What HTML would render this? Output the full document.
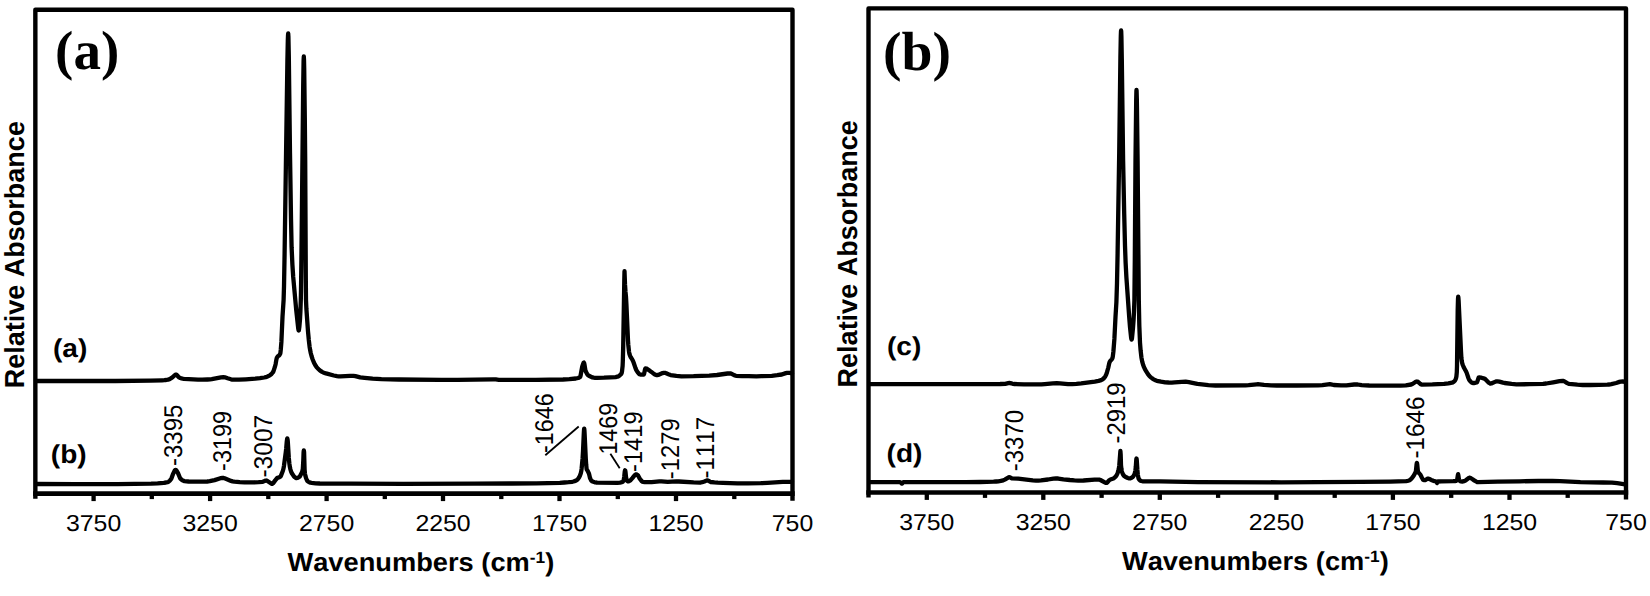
<!DOCTYPE html>
<html lang="en"><head><meta charset="utf-8"><title>FTIR spectra</title>
<style>
html,body{margin:0;padding:0;background:#fff;}
body{width:1650px;height:596px;overflow:hidden;}
svg{display:block;}
text{fill:#000;font-kerning:none;font-feature-settings:"kern" 0,"liga" 0;text-rendering:geometricPrecision;}
.ax{font-family:"Liberation Sans",sans-serif;}
.b{font-weight:bold;}
.ser{font-family:"Liberation Serif",serif;font-weight:bold;}
.cv{fill:none;stroke:#000;stroke-linejoin:round;stroke-linecap:round;}
</style></head><body>
<svg width="1650" height="596" viewBox="0 0 1650 596">
<rect width="1650" height="596" fill="#fff"/>

<path d="M35.35,498.7 L35.35,9.7 L792.5,9.7 L792.5,500.7" fill="none" stroke="#000" stroke-width="4.4" stroke-linejoin="round"/>
<path d="M33.15,493.7 L794.70,493.7" fill="none" stroke="#000" stroke-width="4.7"/>
<path d="M93.6,493.7 L93.6,501.1" stroke="#000" stroke-width="4.3"/>
<path d="M151.8,493.7 L151.8,499.1" stroke="#000" stroke-width="4.3"/>
<path d="M210.1,493.7 L210.1,501.1" stroke="#000" stroke-width="4.3"/>
<path d="M268.3,493.7 L268.3,499.1" stroke="#000" stroke-width="4.3"/>
<path d="M326.6,493.7 L326.6,501.1" stroke="#000" stroke-width="4.3"/>
<path d="M384.8,493.7 L384.8,499.1" stroke="#000" stroke-width="4.3"/>
<path d="M443.0,493.7 L443.0,501.1" stroke="#000" stroke-width="4.3"/>
<path d="M501.3,493.7 L501.3,499.1" stroke="#000" stroke-width="4.3"/>
<path d="M559.5,493.7 L559.5,501.1" stroke="#000" stroke-width="4.3"/>
<path d="M617.8,493.7 L617.8,499.1" stroke="#000" stroke-width="4.3"/>
<path d="M676.0,493.7 L676.0,501.1" stroke="#000" stroke-width="4.3"/>
<path d="M734.3,493.7 L734.3,499.1" stroke="#000" stroke-width="4.3"/>
<text class="ax" font-size="23" text-anchor="middle" transform="translate(93.6,530.7) scale(1.08,1)">3750</text>
<text class="ax" font-size="23" text-anchor="middle" transform="translate(210.1,530.7) scale(1.08,1)">3250</text>
<text class="ax" font-size="23" text-anchor="middle" transform="translate(326.6,530.7) scale(1.08,1)">2750</text>
<text class="ax" font-size="23" text-anchor="middle" transform="translate(443.0,530.7) scale(1.08,1)">2250</text>
<text class="ax" font-size="23" text-anchor="middle" transform="translate(559.5,530.7) scale(1.08,1)">1750</text>
<text class="ax" font-size="23" text-anchor="middle" transform="translate(676.0,530.7) scale(1.08,1)">1250</text>
<text class="ax" font-size="23" text-anchor="middle" transform="translate(792.5,530.7) scale(1.08,1)">750</text>
<path d="M868.5,497.5 L868.5,8.4 L1626,8.4 L1626,499.5" fill="none" stroke="#000" stroke-width="4.4" stroke-linejoin="round"/>
<path d="M866.30,492.5 L1628.20,492.5" fill="none" stroke="#000" stroke-width="4.7"/>
<path d="M926.8,492.5 L926.8,499.9" stroke="#000" stroke-width="4.3"/>
<path d="M985.0,492.5 L985.0,497.9" stroke="#000" stroke-width="4.3"/>
<path d="M1043.3,492.5 L1043.3,499.9" stroke="#000" stroke-width="4.3"/>
<path d="M1101.6,492.5 L1101.6,497.9" stroke="#000" stroke-width="4.3"/>
<path d="M1159.8,492.5 L1159.8,499.9" stroke="#000" stroke-width="4.3"/>
<path d="M1218.1,492.5 L1218.1,497.9" stroke="#000" stroke-width="4.3"/>
<path d="M1276.4,492.5 L1276.4,499.9" stroke="#000" stroke-width="4.3"/>
<path d="M1334.7,492.5 L1334.7,497.9" stroke="#000" stroke-width="4.3"/>
<path d="M1392.9,492.5 L1392.9,499.9" stroke="#000" stroke-width="4.3"/>
<path d="M1451.2,492.5 L1451.2,497.9" stroke="#000" stroke-width="4.3"/>
<path d="M1509.5,492.5 L1509.5,499.9" stroke="#000" stroke-width="4.3"/>
<path d="M1567.7,492.5 L1567.7,497.9" stroke="#000" stroke-width="4.3"/>
<text class="ax" font-size="23" text-anchor="middle" transform="translate(926.8,529.5) scale(1.08,1)">3750</text>
<text class="ax" font-size="23" text-anchor="middle" transform="translate(1043.3,529.5) scale(1.08,1)">3250</text>
<text class="ax" font-size="23" text-anchor="middle" transform="translate(1159.8,529.5) scale(1.08,1)">2750</text>
<text class="ax" font-size="23" text-anchor="middle" transform="translate(1276.4,529.5) scale(1.08,1)">2250</text>
<text class="ax" font-size="23" text-anchor="middle" transform="translate(1392.9,529.5) scale(1.08,1)">1750</text>
<text class="ax" font-size="23" text-anchor="middle" transform="translate(1509.5,529.5) scale(1.08,1)">1250</text>
<text class="ax" font-size="23" text-anchor="middle" transform="translate(1626.0,529.5) scale(1.08,1)">750</text>
<path class="cv" stroke-width="4.3" d="M36.0,381.0 L115.4,381.0 L150.6,380.6 L162.2,380.3 L164.4,380.2 L166.0,380.0 L168.0,379.6 L169.6,379.1 L170.8,378.4 L172.6,377.2 L175.0,375.0 L175.6,374.7 L176.0,374.6 L176.4,374.7 L176.8,375.0 L178.4,376.8 L179.0,377.3 L180.4,378.0 L181.6,378.4 L182.6,378.6 L184.0,378.8 L198.0,379.7 L202.2,379.7 L207.4,379.5 L210.2,379.4 L211.8,379.2 L221.0,377.3 L223.4,377.1 L224.8,377.3 L227.6,378.3 L231.0,379.3 L232.4,379.6 L233.6,379.7 L239.0,379.6 L245.8,379.3 L255.2,378.7 L260.0,378.2 L264.2,377.5 L265.6,377.2 L267.0,376.7 L268.4,376.1 L269.8,375.4 L271.2,374.3 L272.6,372.7 L273.2,371.8 L273.6,370.9 L274.8,367.2 L275.6,364.2 L276.4,359.5 L276.8,357.9 L277.2,357.2 L277.6,356.6 L279.0,355.6 L279.6,354.9 L280.2,353.7 L280.4,352.9 L280.8,349.5 L281.4,341.9 L282.5,316.8 L283.6,300.0 L284.0,286.6 L284.6,253.7 L287.4,60.8 L287.8,41.1 L288.0,35.5 L288.2,33.5 L288.4,36.3 L288.8,55.5 L290.0,153.5 L291.0,218.5 L291.6,247.2 L292.4,264.6 L293.2,276.9 L296.2,309.9 L298.2,328.3 L298.6,330.4 L298.7,330.5 L298.8,330.4 L299.0,329.6 L299.4,326.4 L300.0,319.3 L300.4,311.5 L300.8,300.0 L301.0,290.6 L301.4,259.1 L303.2,85.5 L303.6,60.3 L303.8,56.5 L304.0,59.6 L304.2,68.2 L304.8,117.5 L305.2,160.0 L305.8,278.6 L306.0,300.0 L306.4,309.0 L308.0,331.3 L308.8,339.9 L309.6,346.8 L310.2,350.3 L310.8,353.2 L311.6,356.3 L312.6,359.2 L314.0,362.7 L315.2,365.0 L316.4,366.8 L317.8,368.5 L319.4,370.0 L321.0,371.2 L322.0,371.8 L323.2,372.4 L326.0,373.4 L333.8,375.5 L337.0,376.1 L338.6,376.3 L340.6,376.3 L350.0,375.9 L353.4,375.8 L355.4,376.1 L360.2,377.4 L364.6,377.9 L372.6,378.7 L381.4,379.1 L398.8,379.5 L441.4,379.8 L457.6,379.8 L493.2,379.4 L495.8,379.4 L498.8,379.8 L500.0,379.9 L535.8,379.8 L563.0,379.5 L569.4,379.2 L575.8,378.5 L578.2,378.0 L580.0,377.1 L580.2,376.8 L580.6,375.5 L582.2,366.7 L583.2,363.6 L583.6,362.8 L583.9,362.6 L584.2,363.2 L584.4,364.1 L585.4,370.3 L585.6,371.0 L586.2,372.3 L587.2,374.1 L588.2,375.3 L588.9,375.8 L591.0,376.8 L592.4,377.4 L593.8,377.7 L595.0,377.8 L597.2,377.8 L604.0,377.7 L610.4,377.4 L615.6,377.1 L617.4,376.7 L618.6,376.2 L619.6,375.5 L620.8,374.4 L621.6,373.3 L622.0,371.6 L622.6,366.0 L622.8,361.6 L623.2,346.5 L624.3,280.0 L624.5,271.2 L625.0,284.4 L625.5,292.0 L626.0,297.0 L626.4,304.0 L628.0,340.3 L628.3,345.0 L629.0,351.6 L629.4,353.8 L630.0,355.6 L630.8,357.3 L632.2,359.4 L632.9,360.7 L633.6,362.5 L635.4,367.9 L636.2,369.9 L636.7,370.8 L638.2,372.9 L639.0,373.8 L639.6,374.3 L640.4,374.6 L643.8,374.5 L644.2,373.4 L645.0,369.5 L645.2,368.8 L645.5,368.3 L646.4,368.5 L647.2,368.9 L649.8,370.8 L651.4,371.9 L654.2,374.1 L655.2,374.7 L656.2,375.0 L657.2,375.1 L658.2,374.9 L662.6,373.1 L663.6,372.9 L664.6,372.8 L665.4,372.9 L666.2,373.2 L669.2,374.6 L670.6,375.1 L676.4,375.9 L681.4,376.3 L693.6,376.2 L709.2,375.6 L717.0,375.0 L727.6,373.5 L729.8,373.3 L730.4,373.4 L731.2,373.6 L734.6,375.4 L736.0,375.8 L742.0,376.1 L748.6,376.2 L756.4,376.3 L761.4,376.2 L771.8,375.8 L777.2,375.2 L781.8,374.5 L785.8,373.1 L787.2,372.8 L789.8,372.9 L792.0,373.3"/>
<path class="cv" stroke-width="4.3" d="M36.0,484.0 L74.8,484.2 L117.6,484.1 L151.2,483.6 L157.6,483.3 L163.8,482.8 L166.0,482.5 L167.8,482.1 L168.8,481.6 L170.0,480.4 L171.0,479.2 L171.4,478.5 L173.2,473.6 L174.4,471.2 L175.0,470.2 L175.4,469.8 L175.6,469.8 L176.0,470.0 L176.4,470.4 L178.0,473.1 L179.8,477.5 L180.4,478.6 L181.6,479.7 L182.6,480.4 L183.6,480.9 L184.4,481.1 L188.6,481.5 L193.0,481.7 L201.0,481.7 L207.2,481.5 L209.8,481.2 L214.6,480.1 L220.4,478.2 L221.6,478.0 L222.8,477.9 L223.6,478.0 L224.6,478.3 L231.0,480.9 L232.6,481.4 L234.4,481.7 L239.8,482.1 L244.6,482.3 L249.6,482.4 L254.2,482.3 L258.6,482.2 L262.4,481.9 L263.2,481.6 L265.2,480.7 L265.8,480.6 L266.4,480.5 L266.8,480.6 L267.4,480.9 L271.2,483.5 L271.8,483.8 L272.2,483.8 L272.6,483.6 L273.2,483.1 L275.2,480.4 L277.2,478.0 L277.8,477.7 L279.6,477.1 L280.4,476.7 L281.0,475.6 L282.8,471.0 L283.5,468.5 L284.0,465.6 L285.8,452.0 L286.2,448.5 L286.8,441.3 L287.2,438.6 L287.3,438.4 L287.6,439.7 L287.8,441.6 L288.8,458.0 L289.4,463.8 L289.8,466.5 L290.4,469.3 L291.2,471.8 L292.0,473.6 L293.4,475.6 L294.6,477.1 L295.6,477.8 L296.2,478.1 L296.6,478.1 L297.2,478.0 L298.0,477.7 L299.6,476.7 L300.2,475.8 L301.6,473.1 L302.0,472.3 L302.4,471.0 L302.8,469.0 L303.3,460.3 L303.6,452.2 L303.8,450.4 L304.1,452.2 L304.6,469.7 L305.0,473.8 L305.4,475.9 L306.2,478.5 L307.0,480.3 L307.6,481.2 L308.2,481.7 L309.4,482.3 L310.4,482.7 L311.6,482.9 L315.6,483.3 L319.8,483.5 L351.0,483.7 L403.2,483.8 L474.2,483.7 L511.6,483.5 L536.4,483.3 L559.8,482.8 L564.4,482.5 L568.6,482.2 L572.0,481.8 L573.4,481.5 L575.4,480.9 L576.8,480.1 L578.0,479.0 L579.0,477.6 L580.0,475.5 L580.8,473.2 L581.3,471.0 L581.6,468.8 L582.6,458.2 L583.0,451.4 L583.8,433.7 L584.0,430.1 L584.2,428.6 L584.4,430.1 L584.6,433.7 L585.8,458.8 L586.2,464.8 L586.6,469.0 L586.8,469.6 L587.6,470.8 L588.8,473.2 L589.2,474.5 L590.0,477.9 L590.4,478.9 L591.0,480.1 L591.6,480.9 L592.0,481.2 L593.4,481.8 L594.8,482.3 L596.0,482.5 L597.3,482.6 L617.4,482.8 L620.0,482.6 L622.0,482.2 L622.6,481.9 L623.0,481.5 L623.4,481.0 L623.6,480.5 L624.2,477.0 L624.7,472.0 L625.0,470.5 L625.1,470.3 L625.2,470.5 L625.5,472.0 L626.0,477.0 L626.6,479.9 L626.8,480.3 L627.4,481.0 L627.8,481.3 L628.2,481.4 L629.0,481.2 L630.4,480.4 L632.6,477.9 L634.2,475.8 L635.4,474.7 L635.8,474.4 L636.2,474.3 L636.6,474.4 L637.0,474.6 L638.2,475.7 L639.8,478.7 L641.0,480.3 L641.8,481.2 L642.4,481.6 L643.2,481.8 L644.8,482.1 L646.2,482.2 L651.6,482.1 L659.4,481.4 L661.4,481.4 L667.8,481.8 L676.2,481.4 L678.8,481.5 L693.6,482.4 L699.8,482.6 L700.8,482.5 L702.2,482.2 L704.4,481.5 L706.4,480.6 L707.3,480.4 L708.2,480.6 L710.0,481.6 L710.8,482.0 L714.4,482.4 L717.8,482.7 L722.8,482.9 L737.6,483.3 L748.0,483.4 L760.8,483.2 L767.4,482.9 L782.8,481.9 L792.0,481.8"/>
<path class="cv" stroke-width="4.3" d="M870.0,384.1 L964.0,384.1 L1000.2,384.0 L1005.2,383.8 L1008.2,383.1 L1009.3,383.0 L1010.4,383.1 L1012.8,383.8 L1013.8,384.0 L1024.0,384.3 L1041.4,384.4 L1044.8,384.1 L1052.8,383.3 L1056.8,383.1 L1060.0,383.3 L1068.0,384.1 L1072.2,384.2 L1076.4,383.9 L1081.2,383.4 L1094.8,381.6 L1098.6,380.9 L1101.2,380.2 L1102.2,379.7 L1103.6,378.5 L1105.2,376.6 L1106.0,375.1 L1107.0,372.2 L1108.2,368.0 L1109.2,363.4 L1109.6,362.1 L1110.2,361.0 L1111.4,359.8 L1112.0,359.0 L1112.5,357.9 L1112.8,356.6 L1113.4,351.5 L1114.4,338.9 L1115.5,316.8 L1116.4,302.2 L1117.0,283.3 L1117.6,253.2 L1119.2,153.7 L1120.4,57.6 L1120.8,36.1 L1121.0,31.2 L1121.1,30.5 L1121.2,31.2 L1121.4,36.4 L1121.8,58.9 L1123.1,160.0 L1124.2,213.9 L1125.0,245.7 L1125.6,262.3 L1126.4,277.4 L1129.2,317.2 L1130.0,327.0 L1131.2,338.2 L1131.4,339.2 L1131.6,339.6 L1131.8,339.2 L1132.0,338.1 L1133.0,327.8 L1133.6,319.7 L1134.0,311.6 L1134.4,300.0 L1134.8,260.7 L1135.5,160.0 L1136.2,99.5 L1136.4,91.2 L1136.5,90.0 L1136.6,91.0 L1136.8,97.9 L1137.0,110.1 L1137.6,160.0 L1138.8,300.0 L1139.3,325.2 L1140.0,342.6 L1140.6,350.3 L1141.4,357.3 L1142.2,361.7 L1143.2,365.1 L1144.0,367.2 L1144.8,368.9 L1146.4,371.7 L1147.8,373.9 L1149.0,375.5 L1150.0,376.6 L1151.2,377.6 L1152.8,378.8 L1154.8,380.0 L1156.8,380.8 L1161.0,381.7 L1165.2,382.3 L1168.6,382.5 L1171.8,382.6 L1174.6,382.4 L1181.8,381.8 L1185.6,381.7 L1188.8,382.2 L1194.8,383.4 L1197.4,383.9 L1208.4,385.1 L1212.0,385.4 L1215.4,385.5 L1245.6,385.4 L1248.6,385.2 L1256.6,384.3 L1258.0,384.2 L1259.6,384.3 L1264.0,384.9 L1271.0,385.3 L1276.8,385.5 L1296.8,385.5 L1318.2,385.3 L1322.4,385.2 L1330.0,384.2 L1331.0,384.3 L1333.8,385.0 L1341.0,385.3 L1346.4,385.3 L1354.2,384.5 L1356.0,384.4 L1357.6,384.5 L1361.6,385.2 L1369.2,385.5 L1378.2,385.6 L1400.6,385.6 L1405.8,385.3 L1411.2,384.5 L1412.4,384.0 L1415.4,382.0 L1416.2,381.6 L1416.8,381.5 L1417.4,381.6 L1418.0,381.8 L1420.6,384.1 L1421.2,384.5 L1421.8,384.6 L1432.4,384.4 L1444.0,383.9 L1448.4,383.4 L1452.0,382.7 L1453.0,382.4 L1453.8,381.8 L1454.8,380.8 L1455.4,379.9 L1456.0,378.2 L1456.4,376.5 L1456.8,372.3 L1457.0,366.1 L1457.7,310.2 L1458.0,299.0 L1458.2,296.6 L1458.4,297.9 L1458.6,300.4 L1461.0,351.4 L1461.4,358.1 L1461.7,360.5 L1462.2,363.1 L1462.8,365.0 L1464.0,367.8 L1465.8,371.0 L1466.6,372.6 L1468.4,378.0 L1469.0,379.5 L1469.4,380.2 L1470.4,381.4 L1471.2,382.1 L1472.0,382.7 L1472.8,383.0 L1473.8,383.0 L1475.4,382.8 L1476.8,382.4 L1477.0,382.2 L1477.4,381.4 L1478.6,377.8 L1478.8,377.5 L1479.0,377.4 L1480.2,377.5 L1481.4,377.7 L1484.4,378.6 L1485.6,379.4 L1488.8,382.7 L1489.6,383.2 L1490.2,383.5 L1491.0,383.5 L1491.8,383.3 L1495.6,381.6 L1496.6,381.3 L1497.4,381.3 L1499.4,381.6 L1503.0,382.6 L1504.6,383.0 L1511.6,383.9 L1516.4,384.3 L1529.6,384.2 L1543.0,383.8 L1546.2,383.5 L1553.2,382.3 L1559.6,381.1 L1562.6,380.8 L1563.4,380.9 L1564.2,381.2 L1567.2,383.1 L1568.4,383.7 L1569.1,383.9 L1571.8,384.2 L1577.4,384.7 L1582.8,385.0 L1590.2,385.0 L1599.2,384.8 L1607.3,384.6 L1608.8,384.5 L1611.4,384.1 L1616.2,383.0 L1619.4,381.9 L1620.6,381.6 L1622.8,381.5 L1625.0,381.8"/>
<path class="cv" stroke-width="4.3" d="M870.0,482.1 L900.0,482.1 L900.4,482.3 L901.4,483.3 L901.9,483.6 L902.2,483.5 L903.0,482.4 L903.5,482.1 L965.8,482.2 L980.0,482.0 L993.6,481.7 L996.2,481.5 L998.4,481.3 L1000.8,480.9 L1003.2,480.3 L1004.8,479.6 L1008.6,477.4 L1009.4,477.2 L1010.0,477.4 L1011.4,478.2 L1012.0,478.4 L1018.2,478.7 L1026.4,479.7 L1032.8,480.4 L1036.0,480.6 L1038.4,480.6 L1041.0,480.4 L1048.0,479.5 L1053.4,478.6 L1056.0,478.4 L1058.2,478.5 L1063.4,479.3 L1069.8,480.0 L1074.4,480.4 L1078.2,480.6 L1083.4,480.5 L1094.6,479.7 L1099.2,479.6 L1100.4,480.0 L1105.2,482.6 L1106.0,482.8 L1106.6,482.9 L1107.0,482.8 L1107.4,482.4 L1108.8,480.7 L1109.4,480.1 L1111.2,479.2 L1113.4,478.5 L1114.4,477.8 L1115.2,477.0 L1116.2,475.8 L1116.8,474.8 L1117.4,473.6 L1118.0,472.0 L1118.4,470.6 L1118.8,468.7 L1119.3,465.2 L1120.4,450.9 L1120.7,455.0 L1121.0,465.2 L1121.4,468.7 L1121.8,471.2 L1122.1,472.3 L1122.8,474.0 L1123.6,475.3 L1124.4,476.2 L1126.2,477.3 L1127.8,478.0 L1129.2,478.4 L1130.2,478.4 L1131.0,478.1 L1132.5,477.2 L1133.2,476.5 L1134.0,475.1 L1134.6,473.8 L1135.0,472.5 L1135.4,470.6 L1135.8,466.8 L1136.3,459.5 L1136.5,458.5 L1136.7,459.5 L1136.8,460.7 L1137.4,470.0 L1137.8,474.5 L1138.4,477.9 L1138.6,478.6 L1139.0,479.3 L1139.4,479.9 L1140.0,480.4 L1141.4,481.0 L1143.0,481.3 L1160.0,481.4 L1198.0,482.1 L1281.2,482.3 L1317.6,482.2 L1361.0,481.9 L1390.4,481.6 L1406.2,481.2 L1407.2,481.0 L1408.2,480.7 L1409.6,480.2 L1410.2,479.8 L1411.2,478.9 L1412.2,477.8 L1413.8,475.5 L1415.4,472.5 L1415.9,471.1 L1416.5,465.1 L1416.8,463.1 L1416.9,462.9 L1417.0,463.1 L1417.3,465.1 L1417.8,470.5 L1418.0,471.4 L1418.4,472.3 L1419.0,473.1 L1420.4,474.6 L1421.8,477.5 L1422.8,479.3 L1423.2,479.8 L1423.5,480.0 L1424.0,480.1 L1425.2,480.2 L1425.8,479.9 L1427.0,479.0 L1427.6,478.7 L1428.0,478.6 L1428.6,478.7 L1429.4,479.0 L1431.2,479.9 L1433.4,480.8 L1436.3,481.5 L1437.0,483.0 L1437.1,483.1 L1437.9,481.5 L1441.4,481.4 L1453.2,481.2 L1455.0,481.1 L1456.0,480.9 L1456.6,480.5 L1457.2,479.5 L1457.8,475.5 L1458.1,474.2 L1458.4,475.5 L1458.8,478.5 L1459.0,479.5 L1459.2,480.0 L1459.6,480.7 L1460.0,481.1 L1460.6,481.3 L1461.6,481.5 L1462.4,481.5 L1463.2,481.4 L1465.2,480.7 L1465.8,480.3 L1468.8,478.0 L1469.2,477.8 L1469.6,477.7 L1470.2,477.8 L1471.0,478.2 L1472.6,479.2 L1474.6,480.7 L1476.4,481.7 L1477.2,482.1 L1478.0,482.2 L1497.8,481.7 L1519.8,481.3 L1538.4,481.0 L1552.4,481.0 L1560.0,481.2 L1580.4,482.1 L1603.2,482.5 L1612.0,482.7 L1617.2,483.2 L1625.0,484.3"/>
<text class="ser" font-size="55" transform="translate(55.1,69.4) scale(1.0,1)">(a)</text>
<text class="ser" font-size="55" transform="translate(883.0,69.5) scale(1.012,1)">(b)</text>
<text class="ax b" font-size="26" transform="translate(53,356.5) scale(1.08,1)">(a)</text>
<text class="ax b" font-size="26" transform="translate(50.8,463.3) scale(1.08,1)">(b)</text>
<text class="ax b" font-size="26" transform="translate(887,355.2) scale(1.08,1)">(c)</text>
<text class="ax b" font-size="26" transform="translate(886.6,461.8) scale(1.08,1)">(d)</text>
<text class="ax b" font-size="27" transform="translate(23.5,388.2) rotate(-90) scale(1,1.02)">Relative Absorbance</text>
<text class="ax b" font-size="27" transform="translate(856.6,387.4) rotate(-90) scale(1,1.02)">Relative Absorbance</text>
<text class="ax b" font-size="26" transform="translate(287.5,571) scale(1.048,1)">Wavenumbers (cm<tspan font-size="16.5" dy="-8.5">-1</tspan><tspan dy="8.5">)</tspan></text>
<text class="ax b" font-size="26" transform="translate(1122,570) scale(1.048,1)">Wavenumbers (cm<tspan font-size="16.5" dy="-8.5">-1</tspan><tspan dy="8.5">)</tspan></text>
<text class="ax" font-size="24.0" transform="translate(181.6,466) rotate(-90) scale(1,1.069)">-3395</text>
<text class="ax" font-size="23.4" transform="translate(230.6,470.9) rotate(-90) scale(1,1.096)">-3199</text>
<text class="ax" font-size="24.6" transform="translate(271.5,477.6) rotate(-90) scale(1,1.043)">-3007</text>
<text class="ax" font-size="23.3" transform="translate(553.4,452.9) rotate(-90) scale(1,1.101)">-1646</text>
<text class="ax" font-size="23.3" transform="translate(617.3,454.6) rotate(-90) scale(1,1.101)">1469</text>
<text class="ax" font-size="23.65" transform="translate(641.7,471.9) rotate(-90) scale(1,1.085)">-1419</text>
<text class="ax" font-size="23.8" transform="translate(678.6,479.2) rotate(-90) scale(1,1.078)">-1279</text>
<text class="ax" font-size="24.2" transform="translate(713.7,478.6) rotate(-90) scale(1,1.060)">-1117</text>
<text class="ax" font-size="24.0" transform="translate(1022.9,471.3) rotate(-90) scale(1,1.069)">-3370</text>
<text class="ax" font-size="23.9" transform="translate(1124.7,443.5) rotate(-90) scale(1,1.073)">-2919</text>
<text class="ax" font-size="24.3" transform="translate(1423.8,458.6) rotate(-90) scale(1,1.056)">-1646</text>
<path d="M545.3,455.3 L578.7,426.5" stroke="#000" stroke-width="1.8" fill="none"/>
<path d="M610.4,453.8 L619.7,468.2" stroke="#000" stroke-width="1.8" fill="none"/>
</svg>
</body></html>
